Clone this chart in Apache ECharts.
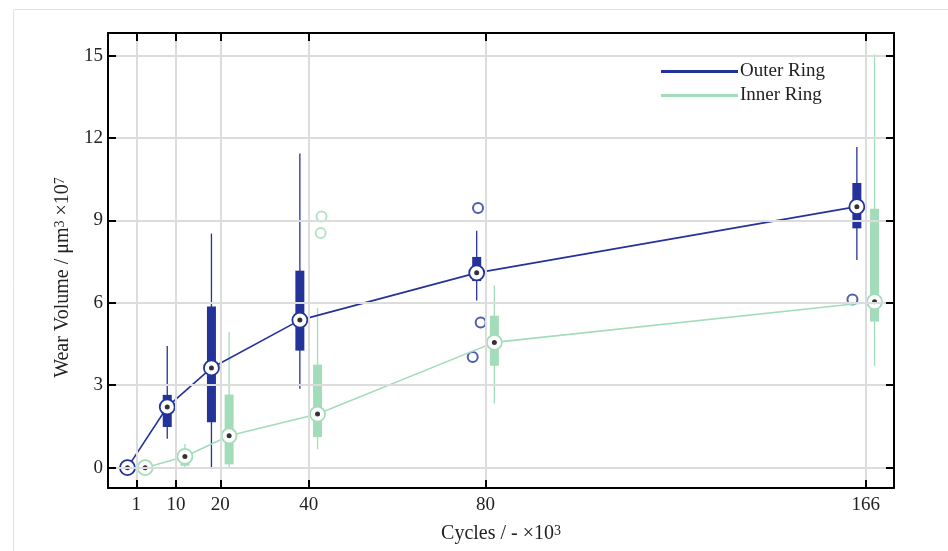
<!DOCTYPE html>
<html>
<head>
<meta charset="utf-8">
<script src="https://cdn.jsdelivr.net/npm/echarts@6/dist/echarts.min.js"></script>
<style>
  html, body { margin: 0; padding: 0; background: #fff; }
  #chart { width: 948px; height: 551px; }
</style>
</head>
<body>
<div id="chart"></div>
<script>
// cycles (x10^3) and tick values
var cycles = [1, 10, 20, 40, 80, 166];
var yTicks = [0, 3, 6, 9, 12, 15];

// Outer Ring: mean, box (q1..q3), whiskers (low..high)
var outerMean = [0, 2.21, 3.63, 5.37, 7.09, 9.50];
var outerQ1 = [0, 1.48, 1.65, 4.26, 6.79, 8.71];
var outerQ3 = [0, 2.65, 5.87, 7.17, 7.67, 10.36];
var outerLow = [0, 1.05, 0, 2.87, 6.08, 7.56];
var outerHigh = [0, 4.43, 8.52, 11.43, 8.62, 11.67];
var outerOutX = [78.3, 78.9, 77.1, 163.0];
var outerOutY = [9.45, 5.28, 4.03, 6.12];

// Inner Ring
var innerMean = [0, 0.41, 1.16, 1.95, 4.56, 6.04];
var innerQ1 = [0, 0.07, 0.12, 1.11, 3.71, 5.32];
var innerQ3 = [0, 0.46, 2.66, 3.75, 5.53, 9.42];
var innerLow = [0, 0, 0, 0.67, 2.34, 3.70];
var innerHigh = [0, 0.86, 4.95, 5.81, 6.64, 15.05];
var innerOutX = [42.9, 42.7];
var innerOutY = [9.14, 8.54];

var BLUE = '#24339a';
var GREEN = '#a3dcb9';
var FONT = 'Liberation Serif';
var DODGE = 2; // boxes sit 2 units left/right of the cycle value

function boxData(off, low, q1, q3, high) {
  return cycles.map(function (c, i) {
    return [c + off, low[i], q1[i], q3[i], high[i]];
  });
}
function meanData(off, mean) {
  return cycles.map(function (c, i) { return [c + off, mean[i]]; });
}
function zip(xs, ys) {
  return xs.map(function (x, i) { return [x, ys[i]]; });
}

function renderBox(params, api) {
  var x = api.value(0);
  var lo = api.coord([x, api.value(1)]);
  var q1 = api.coord([x, api.value(2)]);
  var q3 = api.coord([x, api.value(3)]);
  var hi = api.coord([x, api.value(4)]);
  var color = api.visual('color');
  var w = 9;
  return {
    type: 'group',
    children: [
      { type: 'line', shape: { x1: lo[0], y1: lo[1], x2: hi[0], y2: hi[1] },
        style: { stroke: color, lineWidth: 1.3 } },
      { type: 'rect', shape: { x: q3[0] - w / 2, y: q3[1], width: w, height: q1[1] - q3[1] },
        style: { fill: color } }
    ]
  };
}

var X_MIN = -5.4, X_MAX = 172.4;
var Y_MIN = -0.74, Y_MAX = 15.82;

var tickStyle = { show: true, inside: true, length: 8, lineStyle: { color: '#000', width: 2 } };
var lineStyleAxis = { show: true, onZero: false, lineStyle: { color: '#000', width: 2 } };

var supStyle = { fontFamily: FONT, fontSize: 14, color: '#222', verticalAlign: 'top' };

var option = {
  animation: false,
  backgroundColor: '#fff',
  graphic: [{
    type: 'rect', left: 11, top: 7, silent: true,
    shape: { x: 0.5, y: 0.5, width: 960, height: 560 },
    style: { fill: 'none', stroke: '#e2e2e2', lineWidth: 1 }
  }],
  grid: { left: 108, right: 54, top: 33, bottom: 63 },
  legend: {
    orient: 'vertical',
    left: 656,
    top: 57,
    itemGap: 5,
    itemWidth: 77,
    itemHeight: 3,
    textStyle: { fontFamily: FONT, fontSize: 19, color: '#222', padding: [0, 0, 0, -3] },
    data: [
      { name: 'Outer Ring', icon: 'rect', itemStyle: { color: BLUE, borderWidth: 0 } },
      { name: 'Inner Ring', icon: 'rect', itemStyle: { color: GREEN, borderWidth: 0 } }
    ]
  },
  xAxis: [{
    type: 'value', position: 'bottom', min: X_MIN, max: X_MAX, z: 5,
    name: 'Cycles / - ×10{sup|3}',
    nameLocation: 'middle', nameGap: 36,
    nameTextStyle: { fontFamily: FONT, fontSize: 20, color: '#222', rich: { sup: supStyle } },
    axisLine: lineStyleAxis,
    axisTick: Object.assign({ customValues: cycles }, tickStyle),
    axisLabel: { customValues: cycles, fontFamily: FONT, fontSize: 19, color: '#222', margin: 8 },
    splitLine: { show: false }
  }, {
    type: 'value', position: 'top', min: X_MIN, max: X_MAX, z: 5,
    axisLine: lineStyleAxis,
    axisTick: Object.assign({ customValues: cycles }, tickStyle),
    axisLabel: { show: false },
    splitLine: { show: false }
  }],
  yAxis: [{
    type: 'value', position: 'left', min: Y_MIN, max: Y_MAX, z: 5,
    name: 'Wear Volume / μm{sup|3} ×10{sup|7}',
    nameLocation: 'middle', nameGap: 32,
    nameTextStyle: {
      fontFamily: FONT, fontSize: 20, color: '#222', padding: [0, 34, 0, 0],
      rich: { sup: supStyle }
    },
    axisLine: lineStyleAxis,
    axisTick: Object.assign({ customValues: yTicks }, tickStyle),
    axisLabel: { customValues: yTicks, fontFamily: FONT, fontSize: 19, color: '#222', margin: 5 },
    splitLine: { show: false }
  }, {
    type: 'value', position: 'right', min: Y_MIN, max: Y_MAX, z: 5,
    axisLine: lineStyleAxis,
    axisTick: Object.assign({ customValues: yTicks }, tickStyle),
    axisLabel: { show: false },
    splitLine: { show: false }
  }],
  series: [
    {
      // grid lines
      name: 'grid', type: 'line', data: [], z: 0, silent: true,
      markLine: {
        silent: true, symbol: ['none', 'none'], label: { show: false },
        lineStyle: { color: '#dcdcdc', width: 2, type: 'solid' },
        data: cycles.map(function (c) { return { xAxis: c }; })
          .concat(yTicks.map(function (v) { return { yAxis: v }; }))
      }
    },
    {
      name: 'Outer box', type: 'custom', renderItem: renderBox, z: 2,
      itemStyle: { color: BLUE },
      encode: { x: 0, y: [1, 2, 3, 4] },
      data: boxData(-DODGE, outerLow, outerQ1, outerQ3, outerHigh)
    },
    {
      name: 'Inner box', type: 'custom', renderItem: renderBox, z: 2,
      itemStyle: { color: GREEN },
      encode: { x: 0, y: [1, 2, 3, 4] },
      data: boxData(DODGE, innerLow, innerQ1, innerQ3, innerHigh)
    },
    {
      name: 'Outer out', type: 'scatter', z: 2, symbol: 'emptyCircle', symbolSize: 10,
      itemStyle: { color: BLUE, borderColor: BLUE, borderWidth: 1.3 },
      data: zip(outerOutX, outerOutY)
    },
    {
      name: 'Inner out', type: 'scatter', z: 2, symbol: 'emptyCircle', symbolSize: 10,
      itemStyle: { color: GREEN, borderColor: GREEN, borderWidth: 1.3 },
      data: zip(innerOutX, innerOutY)
    },
    {
      name: 'Inner Ring', type: 'line', z: 3, color: GREEN,
      symbol: 'circle', symbolSize: 15,
      lineStyle: { color: GREEN, width: 1.6 },
      itemStyle: { color: '#fff', borderColor: GREEN, borderWidth: 1.8 },
      data: meanData(DODGE, innerMean)
    },
    {
      name: 'Outer Ring', type: 'line', z: 3, color: BLUE,
      symbol: 'circle', symbolSize: 15,
      lineStyle: { color: BLUE, width: 1.6 },
      itemStyle: { color: '#fff', borderColor: BLUE, borderWidth: 1.8 },
      data: meanData(-DODGE, outerMean)
    },
    {
      name: 'dots', type: 'scatter', z: 4, symbol: 'circle', symbolSize: 5,
      itemStyle: { color: '#000' },
      data: meanData(-DODGE, outerMean).concat(meanData(DODGE, innerMean))
    }
  ]
};

var chart = echarts.init(document.getElementById('chart'));
chart.setOption(option);
</script>
</body>
</html>
